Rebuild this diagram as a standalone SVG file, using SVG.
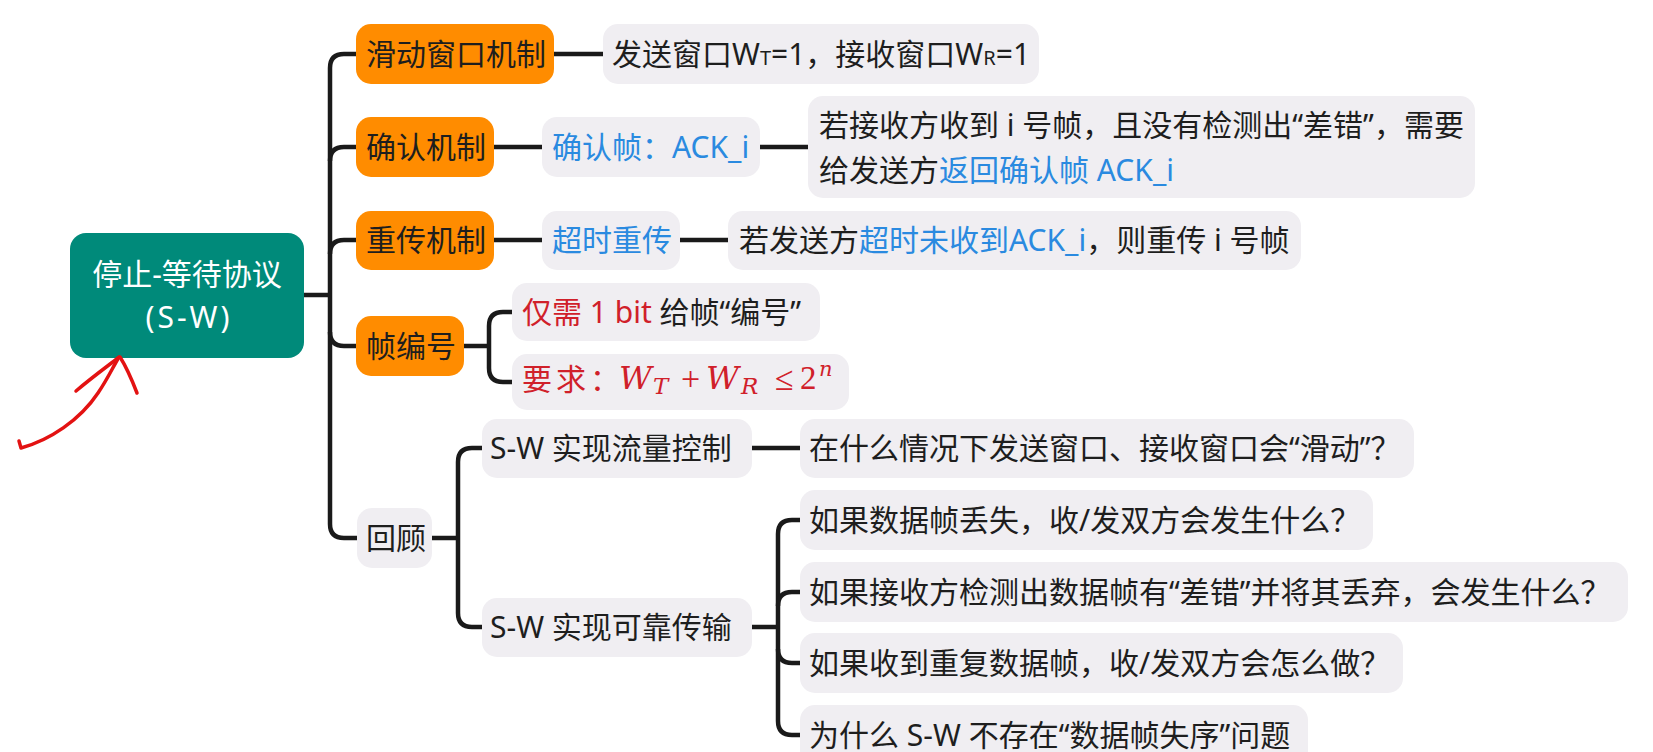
<svg xmlns="http://www.w3.org/2000/svg" width="1653" height="752" viewBox="0 0 1653 752">
<style>
  text { font-family: "Noto Sans", "Noto Sans CJK SC", sans-serif; font-size: 30px; fill: #1e1e1e; }
  .root rect { fill: #008a7a; }
  .root text { fill: #ffffff; text-anchor: middle; }
  .main rect { fill: #ff8c00; }
  .sub rect { fill: #f0eef2; }
  .blue { fill: #2a8ae0; }
  .red { fill: #d0202a; }
  .math { font-family: "Liberation Serif", serif; fill: #d0202a; }
  .it { font-family: "DejaVu Serif", serif; font-style: italic; }
  .conn path { fill: none; stroke: #1a1a1a; stroke-width: 4.5; }
  .anno path { fill: none; stroke: #e31212; stroke-width: 3.5; stroke-linecap: round; stroke-linejoin: round; }
</style>
<rect x="0" y="0" width="1653" height="752" fill="#ffffff"/>

<g class="conn" id="connectors">
  <path d="M304,295 H330"/>
  <path d="M356,54 H344 Q330,54 330,68 V524 Q330,538 344,538 H357"/>
  <path d="M330,161 Q330,147 344,147 H356"/>
  <path d="M330,254 Q330,240 344,240 H356"/>
  <path d="M330,332 Q330,346 344,346 H356"/>
  <path d="M554,54 H603"/>
  <path d="M494,147 H542"/>
  <path d="M760,147 H808"/>
  <path d="M494,240 H542"/>
  <path d="M680,240 H728"/>
  <path d="M464,346 H489"/>
  <path d="M512,312 H503 Q489,312 489,326 V368 Q489,382 503,382 H512"/>
  <path d="M432,538 H458"/>
  <path d="M482,448 H472 Q458,448 458,462 V613 Q458,627 472,627 H482"/>
  <path d="M752,448 H800"/>
  <path d="M752,627 H778"/>
  <path d="M800,520 H792 Q778,520 778,534 V721 Q778,735 792,735 H800"/>
  <path d="M778,606 Q778,592 792,592 H800"/>
  <path d="M778,649 Q778,663 792,663 H800"/>
</g>

<g id="root" class="root">
  <rect x="70" y="233" width="234" height="125" rx="16"/>
  <text x="187" y="285">停止-等待协议</text>
  <text x="189" y="328" letter-spacing="3">(S-W)</text>
</g>

<g id="n-sliding" class="main">
  <rect x="356" y="24" width="198" height="60" rx="15"/>
  <text x="366" y="65">滑动窗口机制</text>
</g>
<g id="n-sliding-desc" class="sub">
  <rect x="603" y="24" width="436" height="60" rx="15"/>
  <text x="612" y="65">发送窗口W<tspan font-size="20">T</tspan>=1，接收窗口W<tspan font-size="20">R</tspan>=1</text>
</g>

<g id="n-ack" class="main">
  <rect x="356" y="117" width="138" height="60" rx="15"/>
  <text x="366" y="158">确认机制</text>
</g>
<g id="n-ackframe" class="sub">
  <rect x="542" y="117" width="218" height="60" rx="15"/>
  <text x="552" y="158" class="blue">确认帧：ACK_i</text>
</g>
<g id="n-ack-desc" class="sub">
  <rect x="808" y="96" width="667" height="102" rx="15"/>
  <text x="819" y="136">若接收方收到 i 号帧，且没有检测出“差错”，需要</text>
  <text x="819" y="181">给发送方<tspan class="blue">返回确认帧 ACK_i</tspan></text>
</g>

<g id="n-retx" class="main">
  <rect x="356" y="211" width="138" height="59" rx="15"/>
  <text x="366" y="251">重传机制</text>
</g>
<g id="n-timeout" class="sub">
  <rect x="542" y="211" width="138" height="59" rx="15"/>
  <text x="552" y="251" class="blue">超时重传</text>
</g>
<g id="n-timeout-desc" class="sub">
  <rect x="728" y="211" width="573" height="59" rx="15"/>
  <text x="739" y="251">若发送方<tspan class="blue">超时未收到ACK_i</tspan>，则重传 i 号帧</text>
</g>

<g id="n-seq" class="main">
  <rect x="356" y="316" width="108" height="60" rx="15"/>
  <text x="366" y="357">帧编号</text>
</g>
<g id="n-seq-1bit" class="sub">
  <rect x="512" y="283" width="308" height="58" rx="15"/>
  <text x="522" y="323"><tspan class="red">仅需 1 bit</tspan> 给帧“编号”</text>
</g>
<g id="n-seq-req" class="sub">
  <rect x="512" y="354" width="337" height="56" rx="15"/>
  <text x="522" y="390" class="red" font-size="26"><tspan letter-spacing="4">要求：</tspan><tspan x="619" y="389" class="math it" font-size="32">W</tspan><tspan x="653" y="394" class="math it" font-size="23">T</tspan><tspan x="681" y="390" class="math" font-size="34">+</tspan><tspan x="706" y="389" class="math it" font-size="32">W</tspan><tspan x="741" y="394" class="math it" font-size="23">R</tspan><tspan x="775" y="390" class="math" font-size="34">≤</tspan><tspan x="800" y="389" class="math" font-size="33">2</tspan><tspan x="819" y="376" class="math it" font-size="21">n</tspan></text>
</g>

<g id="n-review" class="sub">
  <rect x="357" y="508" width="75" height="60" rx="15"/>
  <text x="366" y="549">回顾</text>
</g>
<g id="n-flow" class="sub">
  <rect x="482" y="419" width="270" height="59" rx="15"/>
  <text x="490" y="459">S-W 实现流量控制</text>
</g>
<g id="n-flow-q" class="sub">
  <rect x="800" y="419" width="614" height="59" rx="15"/>
  <text x="809" y="459">在什么情况下发送窗口、接收窗口会“滑动”？</text>
</g>
<g id="n-reliable" class="sub">
  <rect x="482" y="598" width="270" height="59" rx="15"/>
  <text x="490" y="638">S-W 实现可靠传输</text>
</g>
<g id="n-q1" class="sub">
  <rect x="800" y="490" width="573" height="60" rx="15"/>
  <text x="809" y="531">如果数据帧丢失，收/发双方会发生什么？</text>
</g>
<g id="n-q2" class="sub">
  <rect x="800" y="562" width="828" height="60" rx="15"/>
  <text x="809" y="603">如果接收方检测出数据帧有“差错”并将其丢弃，会发生什么？</text>
</g>
<g id="n-q3" class="sub">
  <rect x="800" y="633" width="603" height="60" rx="15"/>
  <text x="809" y="674">如果收到重复数据帧，收/发双方会怎么做？</text>
</g>
<g id="n-q4" class="sub">
  <rect x="800" y="705" width="508" height="60" rx="15"/>
  <text x="809" y="746">为什么 S-W 不存在“数据帧失序”问题</text>
</g>

<g class="anno" id="annotation">
  <path d="M19,441 L21,448 C50,440 80,420 98,393 C107,380 113,367 119,357"/>
  <path d="M76,391 C90,379 105,368 118,358"/>
  <path d="M120,357 C127,368 132,380 137,393"/>
</g>
</svg>
